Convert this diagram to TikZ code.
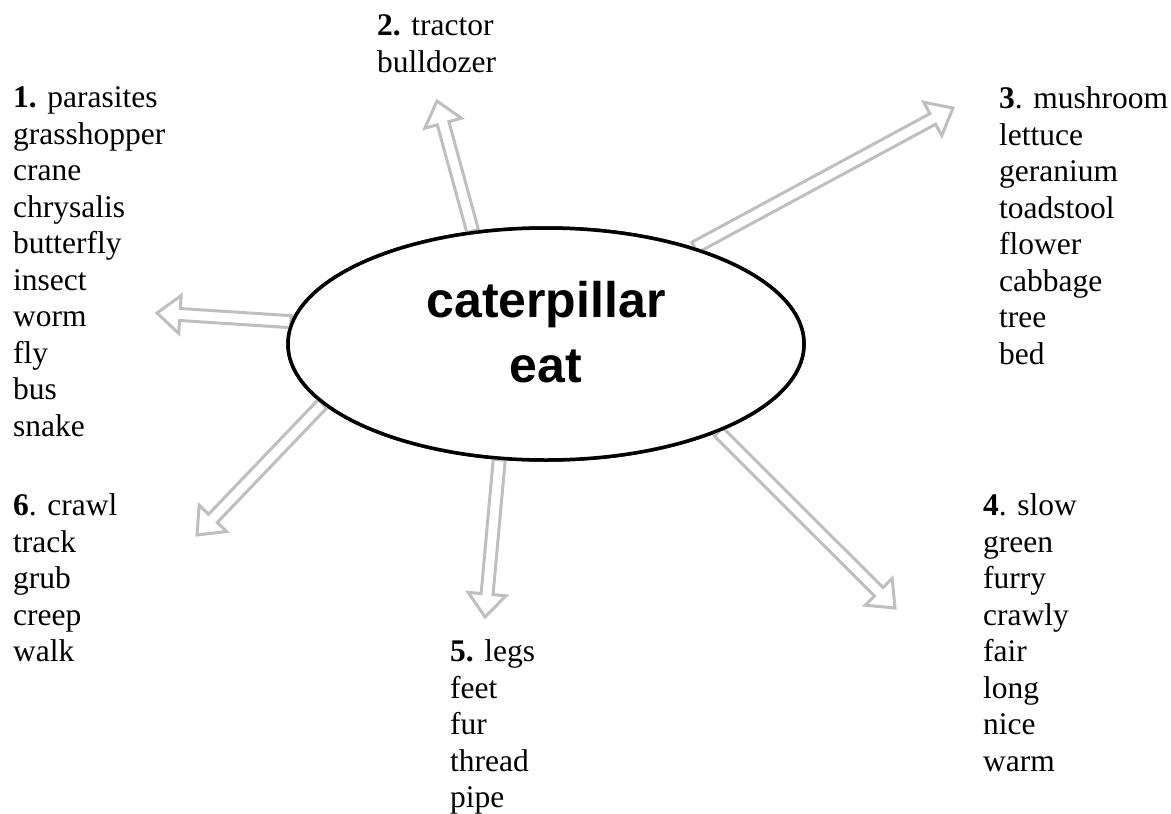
\documentclass[tikz,border=0pt]{standalone}
\usepackage{fontspec}
\setmainfont{Liberation Serif}
\newfontfamily\titlefont{Liberation Sans}
\usepackage{tikz}
\usetikzlibrary{shapes.geometric, calc, positioning}

\tikzset{
  hollow/.style={draw=gray!50, line width=3pt, line join=miter},
  hub/.style={ellipse, draw, line width=3.5pt, fill=white,
    minimum width=516pt, minimum height=232pt, inner sep=0pt},
  title/.style={align=center, inner sep=0pt,
    font=\titlefont\bfseries\fontsize{50}{65}\selectfont},
  words/.style={anchor=north west, inner sep=0pt, align=left,
    font=\fontsize{31.5}{36.5}\selectfont}
}

% hollow arrow from #1 to #2
\newcommand{\hollowarrow}[2]{%
  \draw[hollow] let \p1=(#1), \p2=(#2),
    \n1={atan2(\y2-\y1,\x2-\x1)}, \n2={veclen(\x2-\x1,\y2-\y1)} in
    [shift={(\p1)}, rotate=\n1]
    (0,-6) -- ({\n2-23},-6) -- ({\n2-23},-19) -- (\n2,0)
    -- ({\n2-23},19) -- ({\n2-23},6) -- (0,6) -- cycle;}

\begin{document}
\begin{tikzpicture}[x=1pt, y=-1pt]
    \useasboundingbox (0,0) rectangle (1171,814);

    % word lists
    \node[words] (list1) at (13,86.5) {\textbf{1.} parasites\\grasshopper\\crane\\chrysalis\\butterfly\\insect\\worm\\fly\\bus\\snake};
    \node[words] (list2) at (377,14.5) {\textbf{2.} tractor\\bulldozer};
    \node[words] (list3) at (999,86.5) {\textbf{3}. mushroom\\lettuce\\geranium\\toadstool\\flower\\cabbage\\tree\\bed};
    \node[words] (list4) at (983,493.5) {\textbf{4}. slow\\green\\furry\\crawly\\fair\\long\\nice\\warm};
    \node[words] (list5) at (450,639.5) {\textbf{5.} legs\\feet\\fur\\thread\\pipe};
    \node[words] (list6) at (13,493.5) {\textbf{6}. crawl\\track\\grub\\creep\\walk};

    % arrow tips
    \coordinate (tip1) at (157,313);
    \coordinate (tip2) at (437,101);
    \coordinate (tip3) at (953,108);
    \coordinate (tip4) at (895,608);
    \coordinate (tip5) at (485,617);
    \coordinate (tip6) at (197,535);

    \node[hub] (cat) at (546,344) {};
    \hollowarrow{cat.175.3}{tip1}
    \hollowarrow{cat.123.7}{tip2}
    \hollowarrow{cat.33.4}{tip3}
    \hollowarrow{cat.333.2}{tip4}
    \hollowarrow{cat.248.4}{tip5}
    \hollowarrow{cat.195.2}{tip6}
    \node[hub] at (cat) {};
    \node[title] (title) at (546,332.6) {caterpillar\\eat};
\end{tikzpicture}
\end{document}
